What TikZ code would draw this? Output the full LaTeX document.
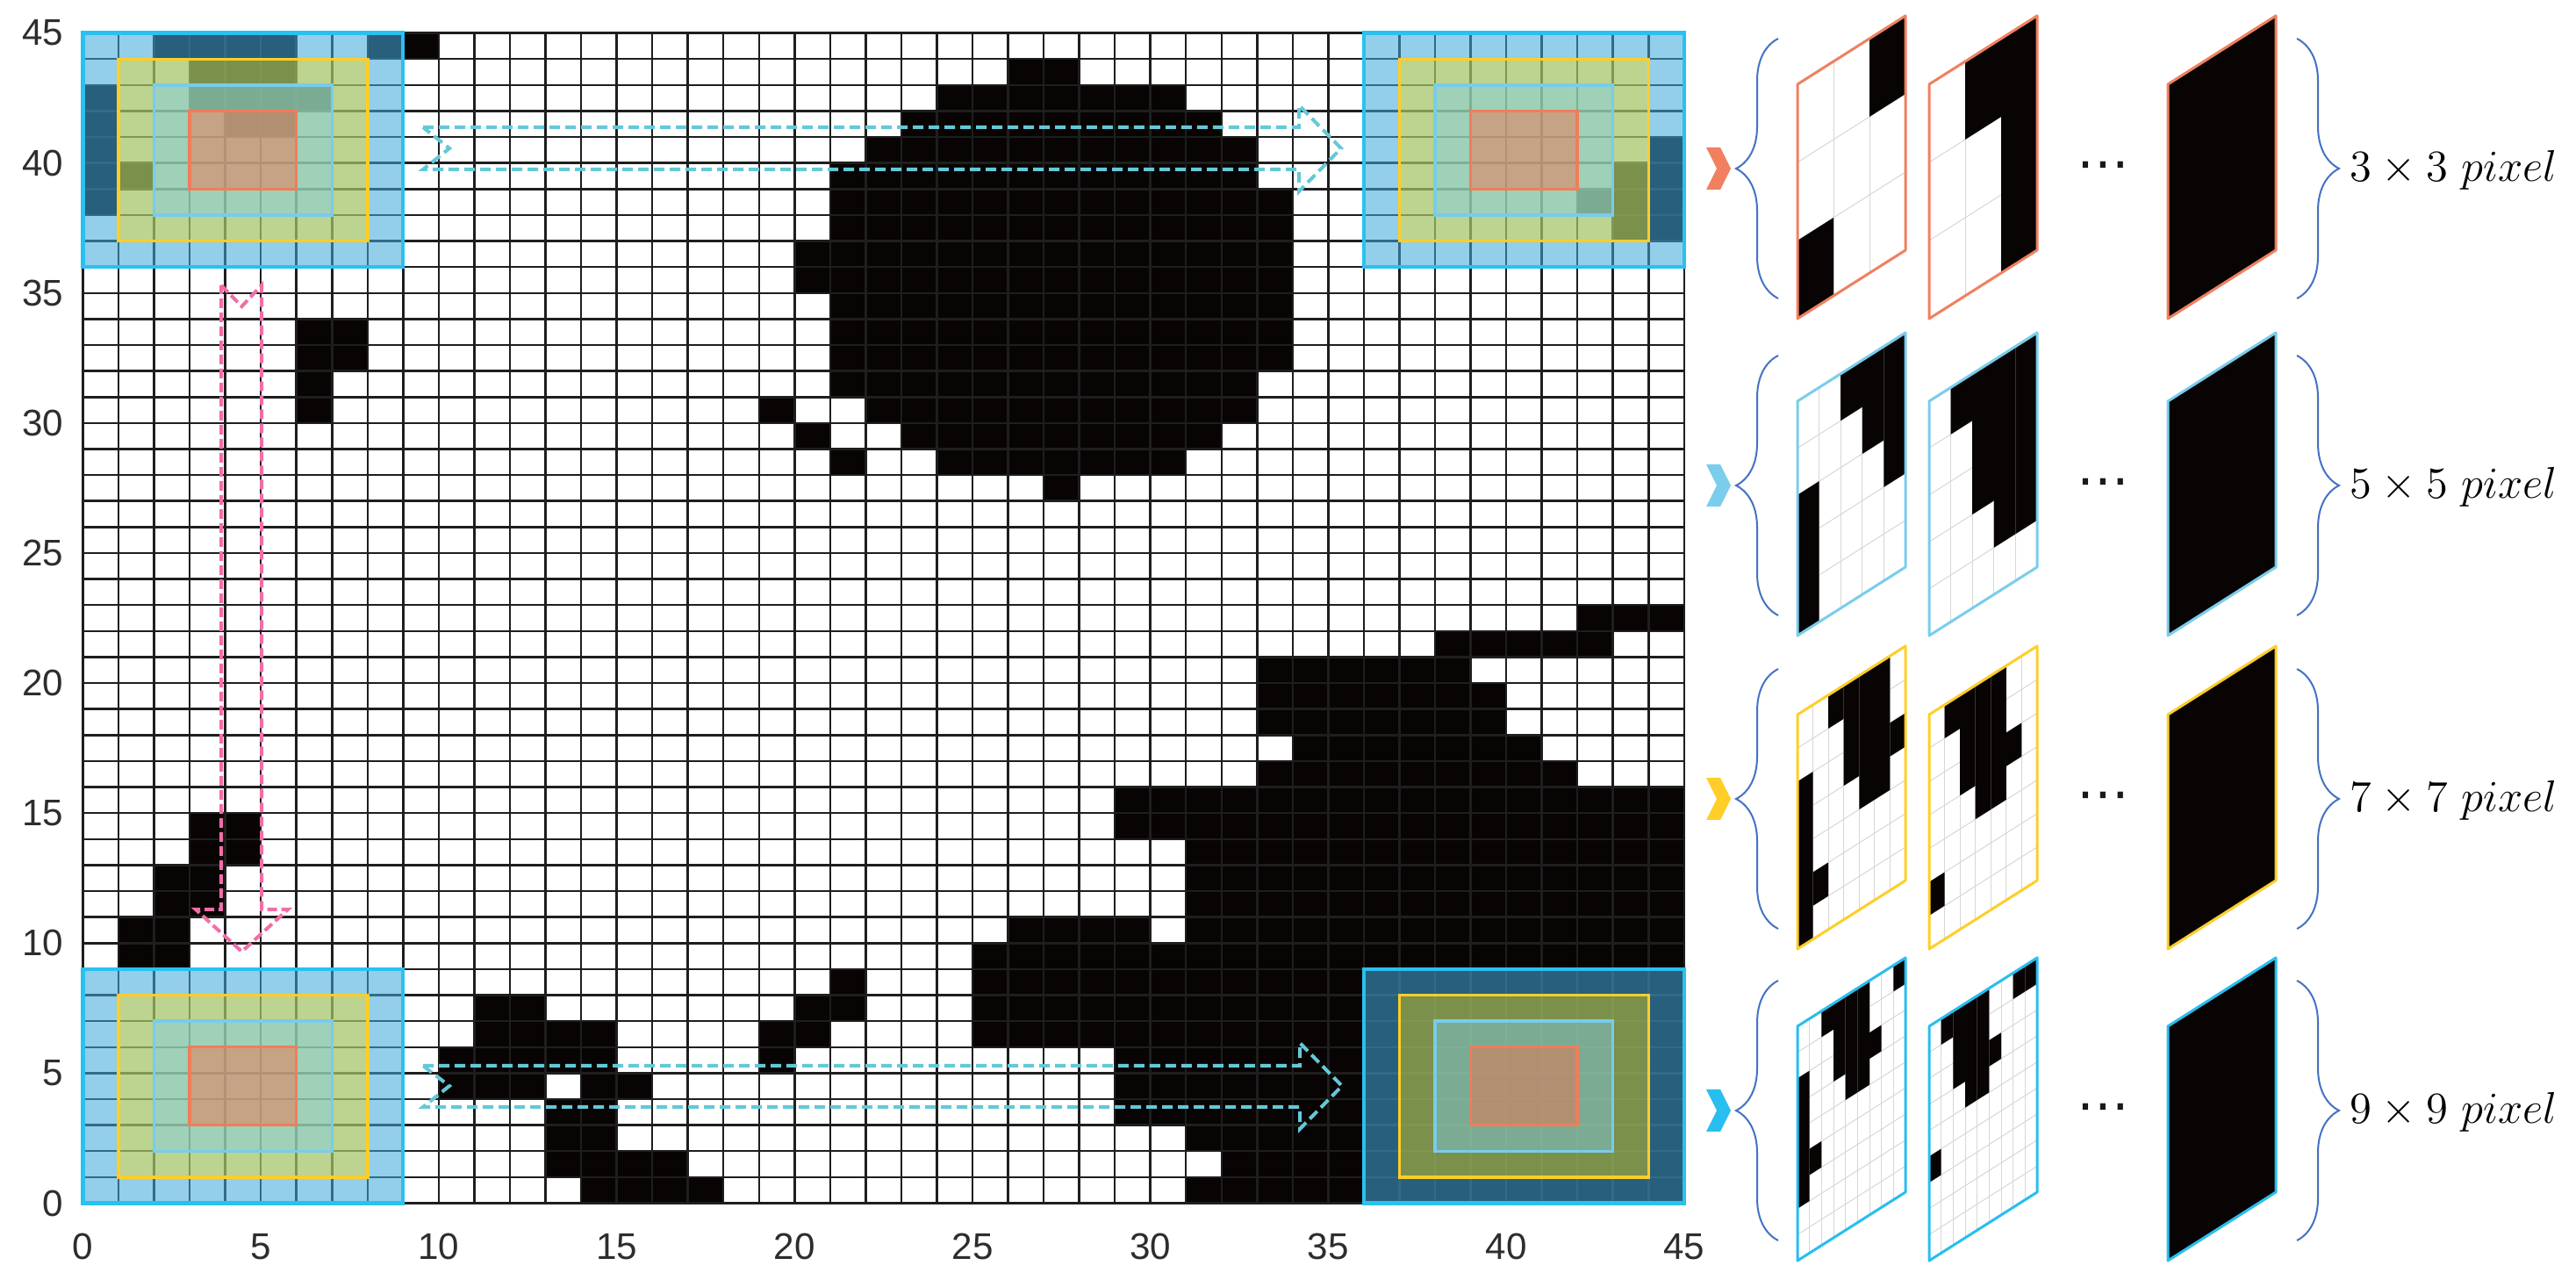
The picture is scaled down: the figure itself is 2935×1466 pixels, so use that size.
\documentclass[tikz,border=0pt]{standalone}
\usepackage{fontspec}
\newfontfamily\ticksfont{Liberation Sans}
\newfontfamily\dotfont{DejaVu Sans}
\usetikzlibrary{decorations.pathreplacing}
\definecolor{cellblack}{RGB}{8,4,4}
\definecolor{gridcol}{RGB}{30,30,30}
\definecolor{win9}{RGB}{64,168,218}
\definecolor{win7}{RGB}{253,222,0}
\definecolor{win5}{RGB}{125,205,233}
\definecolor{win3}{RGB}{244,111,75}
\definecolor{bord9}{RGB}{41,193,240}
\definecolor{bord7}{RGB}{255,205,40}
\definecolor{bord5}{RGB}{120,204,234}
\definecolor{bord3}{RGB}{240,125,90}
\definecolor{arrcyan}{RGB}{100,200,216}
\definecolor{arrpink}{RGB}{240,110,168}
\definecolor{bracecol}{RGB}{68,114,196}
\definecolor{tickcol}{RGB}{45,45,45}
\definecolor{pgridcol}{RGB}{215,215,215}
\definecolor{rowA}{RGB}{240,128,96}
\definecolor{rowB}{RGB}{122,205,235}
\definecolor{rowC}{RGB}{255,206,40}
\definecolor{rowD}{RGB}{40,190,240}

\newcommand{\winbox}[2]{%
  \fill[win9, fill opacity=0.56] (#1,#2) rectangle ++(9,9);
  \fill[win7, fill opacity=0.39] (#1+1,#2+1) rectangle ++(7,7);
  \fill[win5, fill opacity=0.46] (#1+2,#2+2) rectangle ++(5,5);
  \fill[win3, fill opacity=0.46] (#1+3,#2+3) rectangle ++(3,3);
  \draw[bord9, line width=0.42mm] (#1,#2) rectangle ++(9,9);
  \draw[bord7, line width=0.34mm] (#1+1,#2+1) rectangle ++(7,7);
  \draw[bord5, line width=0.34mm] (#1+2,#2+2) rectangle ++(5,5);
  \draw[bord3, line width=0.34mm] (#1+3,#2+3) rectangle ++(3,3);
}

% #1 left x, #2 tip y, #3 n, #4 border colour, #5 black runs i/j0/j1
\newcommand{\patch}[5]{%
  \begin{scope}[shift={({#1*0.1mm},{-(#2+171)*0.1mm})}, x={({12.3mm/#3},{7.8mm/#3})}, y={(0mm,{26.7mm/#3})}]
    \foreach \k in {1,...,#3} {\draw[pgrid] (\k,0) -- (\k,#3); \draw[pgrid] (0,\k) -- (#3,\k);}
    \foreach \i/\a/\b in {#5} {\fill[cellblack] (\i,\a) -- (\i+1,\a) -- (\i+1,\b+1) -- (\i,\b+1) -- cycle;}
    \draw[draw=#4, line width=0.3mm, line join=round] (0,0) -- (#3,0) -- (#3,#3) -- (0,#3) -- cycle;
  \end{scope}}

\newcommand{\chev}[2]{%
  \fill[#2] (1944,#1-24) -- (1960,#1-24) -- (1972,#1) -- (1960,#1+24) -- (1944,#1+24) -- (1956,#1) -- cycle;}

\begin{document}
\begin{tikzpicture}[x=0.1mm, y=-0.1mm,
  ticklab/.style={font=\ticksfont\fontsize{12}{14}\selectfont, text=tickcol, inner sep=0pt},
  plab/.style={font=\fontsize{13.7}{16}\selectfont, inner sep=0pt},
  dotlab/.style={font=\dotfont\fontsize{17}{18}\selectfont, text=black!90, inner sep=0pt},
  gline/.style={line width=0.25mm, draw=gridcol},
  pgrid/.style={line width=0.1mm, draw=pgridcol},
  carrow/.style={draw=arrcyan, line width=0.4mm, dash pattern=on 1.2mm off 0.6mm, line join=miter},
  parrow/.style={draw=arrpink, line width=0.4mm, dash pattern=on 1.1mm off 0.5mm, line join=miter},
  bracestyle/.style={draw=bracecol, line width=0.2mm, decorate, decoration={brace, amplitude=4.8mm}},
]
\fill[white] (0,0) rectangle (2935,1466);
\useasboundingbox (0,0) rectangle (2935,1466);

% ---------- main grid ----------
\begin{scope}[shift={(9.45mm,-137.05mm)}, x=4.054mm, y=2.962mm]
  \foreach \r/\a/\b in {
    44/9/9, 44/2/5, 44/8/8,
    43/26/27, 43/3/5,
    42/24/30, 42/0/0, 42/3/6,
    41/23/31, 41/0/0, 41/4/5,
    40/22/32, 40/0/0, 40/44/44,
    39/21/32, 39/0/1, 39/43/44,
    38/21/33, 38/0/0, 38/42/44,
    37/21/33, 37/43/44,
    36/20/33, 35/20/33, 34/21/33,
    33/6/7, 33/21/33,
    32/6/7, 32/21/33,
    31/6/6, 31/21/32,
    30/6/6, 30/19/19, 30/22/32,
    29/20/20, 29/23/31,
    28/21/21, 28/24/30,
    27/27/27,
    22/42/44, 21/38/42, 20/33/38, 19/33/39, 18/33/39, 17/34/40, 16/33/41,
    15/29/44,
    14/3/4, 14/29/44,
    13/3/4, 13/31/44,
    12/2/3, 12/31/44,
    11/2/3, 11/31/44,
    10/1/2, 10/26/29, 10/31/44,
    9/1/2, 9/25/44,
    8/21/21, 8/25/44,
    7/11/12, 7/20/21, 7/25/44,
    6/11/14, 6/19/20, 6/25/44,
    5/10/14, 5/19/19, 5/29/44,
    4/10/12, 4/14/15, 4/29/44,
    3/13/14, 3/29/44,
    2/13/14, 2/31/44,
    1/13/16, 1/32/44,
    0/14/17, 0/31/44}
  {\fill[cellblack] (\a,\r) rectangle (\b+1,\r+1);}
  \foreach \i in {0,...,45} {\draw[gline] (\i,0) -- (\i,45); \draw[gline] (0,\i) -- (45,\i);}
  \winbox{0}{36}
  \winbox{36}{36}
  \winbox{0}{0}
  \winbox{36}{0}
\end{scope}

% ---------- axis labels ----------
\foreach \v in {0,5,...,45} {
  \node[ticklab, anchor=east] (yt\v) at (73,{1370.5-\v*29.62}) {\v};
  \node[ticklab] (xt\v) at ({94.5+\v*40.54},1420) {\v};
}

% ---------- dashed arrows ----------
\draw[carrow] (482,145) -- (1480,145) -- (1480,120) -- (1528,169) -- (1480,218) -- (1480,193) -- (482,193) -- (512,169) -- cycle;
\draw[carrow] (482,1214) -- (1481,1214) -- (1481,1188) -- (1529,1237) -- (1481,1286) -- (1481,1261) -- (482,1261) -- (512,1237) -- cycle;
\draw[parrow] (252,325) -- (275.5,349) -- (298,325) -- (298,1036) -- (328,1036) -- (275.5,1084) -- (223,1036) -- (252,1036) -- cycle;

% ---------- right panel ----------
% row 1 : 3x3
\chev{192}{rowA}
\draw[bracestyle] (2026,340) -- (2026,44);
\patch{2048}{192}{3}{rowA}{0/0/0, 2/2/2}
\patch{2198}{192}{3}{rowA}{1/2/2, 2/0/2}
\patch{2470}{192}{1}{rowA}{0/0/0}
\node[dotlab] (d1) at (2396,195) {⋯};
\draw[bracestyle] (2617,44) -- (2617,340);
\node[plab, anchor=base west] (l1) at (2677,207) {$3\times 3\ pixel$};

% row 2 : 5x5
\chev{553}{rowB}
\draw[bracestyle] (2026,701) -- (2026,405);
\patch{2048}{553}{5}{rowB}{0/0/2, 2/4/4, 3/3/4, 4/2/4}
\patch{2198}{553}{5}{rowB}{1/4/4, 2/2/4, 3/1/4, 4/1/4}
\patch{2470}{553}{1}{rowB}{0/0/0}
\node[dotlab] (d2) at (2396,556) {⋯};
\draw[bracestyle] (2617,405) -- (2617,701);
\node[plab, anchor=base west] (l2) at (2677,568) {$5\times 5\ pixel$};

% row 3 : 7x7
\chev{910}{rowC}
\draw[bracestyle] (2026,1058) -- (2026,762);
\patch{2048}{910}{7}{rowC}{0/0/4, 1/1/1, 2/6/6, 3/4/6, 4/3/6, 5/3/6, 6/4/4}
\patch{2198}{910}{7}{rowC}{0/1/1, 1/6/6, 2/4/6, 3/3/6, 4/3/6, 5/4/4}
\patch{2470}{910}{1}{rowC}{0/0/0}
\node[dotlab] (d3) at (2396,913) {⋯};
\draw[bracestyle] (2617,762) -- (2617,1058);
\node[plab, anchor=base west] (l3) at (2677,925) {$7\times 7\ pixel$};

% row 4 : 9x9
\chev{1265}{rowD}
\draw[bracestyle] (2026,1413) -- (2026,1117);
\patch{2048}{1265}{9}{rowD}{0/2/6, 1/3/3, 2/8/8, 3/6/8, 4/5/8, 5/5/8, 6/6/6, 8/8/8}
\patch{2198}{1265}{9}{rowD}{0/3/3, 1/8/8, 2/6/8, 3/5/8, 4/5/8, 5/6/6, 7/8/8, 8/8/8}
\patch{2470}{1265}{1}{rowD}{0/0/0}
\node[dotlab] (d4) at (2396,1268) {⋯};
\draw[bracestyle] (2617,1117) -- (2617,1413);
\node[plab, anchor=base west] (l4) at (2677,1280) {$9\times 9\ pixel$};
\end{tikzpicture}
\end{document}
